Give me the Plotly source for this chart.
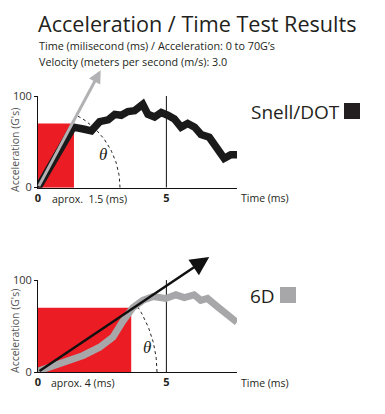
import math
import plotly.graph_objects as go

# ---------------- data ----------------
snell_time = [0, 0.5, 1.0, 1.37, 1.76, 2.08, 2.4, 2.73, 2.99, 3.24, 3.5, 3.76, 4.08, 4.28,
              4.54, 4.8, 5.05, 5.31, 5.57, 5.83, 6.1, 6.35, 6.67, 6.99, 7.25, 7.51, 7.75]
snell_acc = [0, 24, 48, 66, 64, 62, 72, 74, 80, 79, 83, 84, 91, 80,
             77, 82, 79, 75, 66, 70, 66, 58, 55, 44, 32, 36, 36]

d6_time = [0, 0.85, 1.76, 2.4, 2.92, 3.3, 3.69, 4.08, 4.47, 4.98, 5.37, 5.7, 6.08, 6.34,
           6.6, 6.99, 7.38, 7.75]
d6_acc = [1, 9, 18, 27, 38, 55, 70, 78, 82, 80, 84, 81, 84, 78,
          80, 71, 62, 54]

snell_arrow_tip = (2.44, 128)
d6_arrow_tip = (6.67, 125)
snell_red = (1.4, 70)      # (duration ms, G)
d6_red = (3.63, 70)
marker_time = 5
y_ticks = [0, 100]
y_tick_text = ["0", "100"]
x_ticks = [0, 5]
x_tick_text = ["<b>0</b>", "<b>5</b>"]

title = "Acceleration / Time Test Results"
sub1 = "Time (milisecond (ms) / Acceleration: 0 to 70G’s"
sub2 = "Velocity (meters per second (m/s): 3.0"

# ---------------- layout constants ----------------
W, H = 385, 414
L, R, T, B = 38, 237, 96, 372
XMAX = 7.75
TOP_DOM = [0.668, 1.0]
BOT_DOM = [0.0, 0.333]
FONT = "Open Sans"
TXT = "#231f20"
RED = "#ec1c24"
GRAY = "#a7a7a9"

def px(xp):
    return (xp - L) / (R - L)

def py(yp):
    return (B - yp) / (B - T)

sx = (R - L) / XMAX                     # px per ms
sy = (TOP_DOM[1] - TOP_DOM[0]) * (B - T) / 100.0   # px per G

def arc(radius_px, deg):
    n = 40
    xs, ys = [], []
    for i in range(n + 1):
        a = math.radians(deg * i / n)
        xs.append(radius_px * math.cos(a) / sx)
        ys.append(radius_px * math.sin(a) / sy)
    return xs, ys

fig = go.Figure()

# top arc + line
ax1, ay1 = arc(82, 62)
fig.add_trace(go.Scatter(x=ax1, y=ay1, mode="lines", xaxis="x", yaxis="y",
                         line=dict(color="#231f20", width=1, dash="3px,3px"),
                         hoverinfo="skip"))
fig.add_trace(go.Scatter(x=snell_time, y=snell_acc, mode="lines", xaxis="x", yaxis="y",
                         line=dict(color="#1a1a1a", width=7.5), name="Snell/DOT"))

ax2, ay2 = arc(119, 33)
fig.add_trace(go.Scatter(x=ax2, y=ay2, mode="lines", xaxis="x2", yaxis="y2",
                         line=dict(color="#231f20", width=1, dash="3px,3px"),
                         hoverinfo="skip"))
fig.add_trace(go.Scatter(x=d6_time, y=d6_acc, mode="lines", xaxis="x2", yaxis="y2",
                         line=dict(color=GRAY, width=7), name="6D"))

shapes = []
for xr, yr, red in (("x", "y", snell_red), ("x2", "y2", d6_red)):
    shapes.append(dict(type="rect", xref=xr, yref=yr, x0=0, x1=red[0], y0=0, y1=red[1],
                       fillcolor=RED, line=dict(width=0), layer="below"))
    shapes.append(dict(type="line", xref=xr, yref=yr, x0=marker_time, x1=marker_time,
                       y0=0, y1=100, line=dict(color="#111", width=1), layer="below"))

# legend squares
shapes.append(dict(type="rect", xref="paper", yref="paper", x0=px(344), x1=px(360),
                   y0=py(119), y1=py(103), fillcolor="#231f20", line=dict(width=0)))
shapes.append(dict(type="rect", xref="paper", yref="paper", x0=px(280), x1=px(296),
                   y0=py(303), y1=py(287), fillcolor=GRAY, line=dict(width=0)))

ann = []
# arrows
ann.append(dict(x=snell_arrow_tip[0], y=snell_arrow_tip[1], ax=0, ay=0, xref="x", yref="y",
                axref="x", ayref="y", text="", showarrow=True, arrowhead=2,
                arrowwidth=3, arrowsize=0.85, arrowcolor="#b2b2b4"))
ann.append(dict(x=d6_arrow_tip[0], y=d6_arrow_tip[1], ax=0, ay=0, xref="x2", yref="y2",
                axref="x2", ayref="y2", text="", showarrow=True, arrowhead=2,
                arrowwidth=2.5, arrowsize=1.5, arrowcolor="#111"))
# theta
ann.append(dict(x=2.53, y=36, xref="x", yref="y", text="<i>θ</i>", showarrow=False,
                font=dict(family="Liberation Serif", size=17, color=TXT)))
ann.append(dict(x=4.23, y=27, xref="x2", yref="y2", text="<i>θ</i>", showarrow=False,
                font=dict(family="Liberation Serif", size=17, color=TXT)))
# titles
ann.append(dict(x=px(36), y=py(24), xref="paper", yref="paper", text=title, showarrow=False,
                xanchor="left", yanchor="middle", font=dict(family=FONT, size=21.6, color=TXT)))
ann.append(dict(x=px(37), y=py(45), xref="paper", yref="paper", text=sub1, showarrow=False,
                xanchor="left", yanchor="middle", font=dict(family=FONT, size=10.8, color=TXT)))
ann.append(dict(x=px(37), y=py(62), xref="paper", yref="paper", text=sub2, showarrow=False,
                xanchor="left", yanchor="middle", font=dict(family=FONT, size=10.8, color=TXT)))
# y titles
for yc in (150, 331):
    ann.append(dict(x=px(15), y=py(yc), xref="paper", yref="paper", text="Acceleration (G's)",
                    showarrow=False, textangle=-90, xanchor="center", yanchor="middle",
                    font=dict(family=FONT, size=10.5, color="#555")))
# x notes
ann.append(dict(x=px(50), y=py(199), xref="paper", yref="paper", text="aprox.  1.5 (ms)",
                showarrow=False, xanchor="left", yanchor="middle",
                font=dict(family=FONT, size=10.5, color=TXT)))
ann.append(dict(x=px(49), y=py(383), xref="paper", yref="paper", text="aprox. 4 (ms)",
                showarrow=False, xanchor="left", yanchor="middle",
                font=dict(family=FONT, size=10.5, color=TXT)))
for yc in (198, 383):
    ann.append(dict(x=px(239), y=py(yc), xref="paper", yref="paper", text="Time (ms)",
                    showarrow=False, xanchor="left", yanchor="middle",
                    font=dict(family=FONT, size=10.5, color=TXT)))
# legend labels
ann.append(dict(x=px(249), y=py(112), xref="paper", yref="paper", text="Snell/DOT",
                showarrow=False, xanchor="left", yanchor="middle",
                font=dict(family=FONT, size=19, color=TXT)))
ann.append(dict(x=px(248), y=py(296), xref="paper", yref="paper", text="6D",
                showarrow=False, xanchor="left", yanchor="middle",
                font=dict(family=FONT, size=19, color=TXT)))

xaxis_common = dict(range=[0, XMAX], showgrid=False, zeroline=False, showline=True,
                    linecolor="#111", linewidth=1, tickvals=x_ticks, ticktext=x_tick_text,
                    ticks="", tickfont=dict(family=FONT, size=11, color=TXT), fixedrange=True)
yaxis_common = dict(range=[0, 100], showgrid=True, gridcolor="#9d9d9d", gridwidth=1,
                    zeroline=False, showline=True, linecolor="#111", linewidth=1,
                    tickvals=y_ticks, ticktext=y_tick_text, ticks="outside", ticklen=3,
                    tickcolor="#111", tickfont=dict(family=FONT, size=11, color="#333"),
                    fixedrange=True)

fig.update_layout(
    width=W, height=H,
    margin=dict(l=L, r=W - R, t=T, b=H - B),
    paper_bgcolor="white", plot_bgcolor="white",
    showlegend=False,
    xaxis=dict(domain=[0, 1], anchor="y", **xaxis_common),
    yaxis=dict(domain=TOP_DOM, anchor="x", **yaxis_common),
    xaxis2=dict(domain=[0, 1], anchor="y2", **xaxis_common),
    yaxis2=dict(domain=BOT_DOM, anchor="x2", **yaxis_common),
    shapes=shapes, annotations=ann,
)

fig.write_html("out.html", config={"displayModeBar": False})

# remove the browser's default 8px body margin so the figure sits at (0, 0)
with open("out.html", "r", encoding="utf-8") as f:
    html = f.read()
html = html.replace("<head>", "<head><style>html,body{margin:0;padding:0;}</style>", 1)
with open("out.html", "w", encoding="utf-8") as f:
    f.write(html)
